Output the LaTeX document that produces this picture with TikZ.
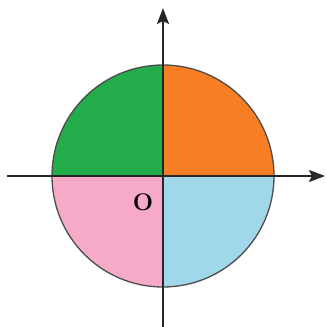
\documentclass[tikz,border=0pt]{standalone}
\usepackage{tikz}
\usetikzlibrary{arrows.meta}
\definecolor{qgreen}{RGB}{34,172,74}
\definecolor{qorange}{RGB}{247,126,34}
\definecolor{qpink}{RGB}{247,170,200}
\definecolor{qblue}{RGB}{160,216,234}
\tikzset{
    rim/.style={draw=black!70, line width=1.3pt},
    axis/.style={-{Stealth[length=16pt,width=12pt,inset=3pt]}, line width=1.8pt, draw=black!85},
    originlabel/.style={font=\fontsize{24}{24}\selectfont\bfseries, inner sep=0pt}
}

\begin{document}
\begin{tikzpicture}[x=1pt, y=1pt]
    \useasboundingbox (-163,-151) rectangle (163,176);
    \coordinate (O) at (0,0);

    % Quadrants
    \fill[qorange] (O) -- (111,0) arc (0:90:111) -- cycle;
    \fill[qgreen] (O) -- (0,111) arc (90:180:111) -- cycle;
    \fill[qpink] (O) -- (-111,0) arc (180:270:111) -- cycle;
    \fill[qblue] (O) -- (0,-111) arc (270:360:111) -- cycle;
    \draw[rim] (O) circle (111);

    % Axes
    \coordinate (xs) at (-156,0);
    \coordinate (xe) at (162,0);
    \coordinate (ys) at (0,-152);
    \coordinate (ye) at (0,168);
    \draw[axis] (xs) -- (xe);
    \draw[axis] (ys) -- (ye);

    \node[originlabel] (olabel) at (-20,-26) {O};
\end{tikzpicture}
\end{document}
